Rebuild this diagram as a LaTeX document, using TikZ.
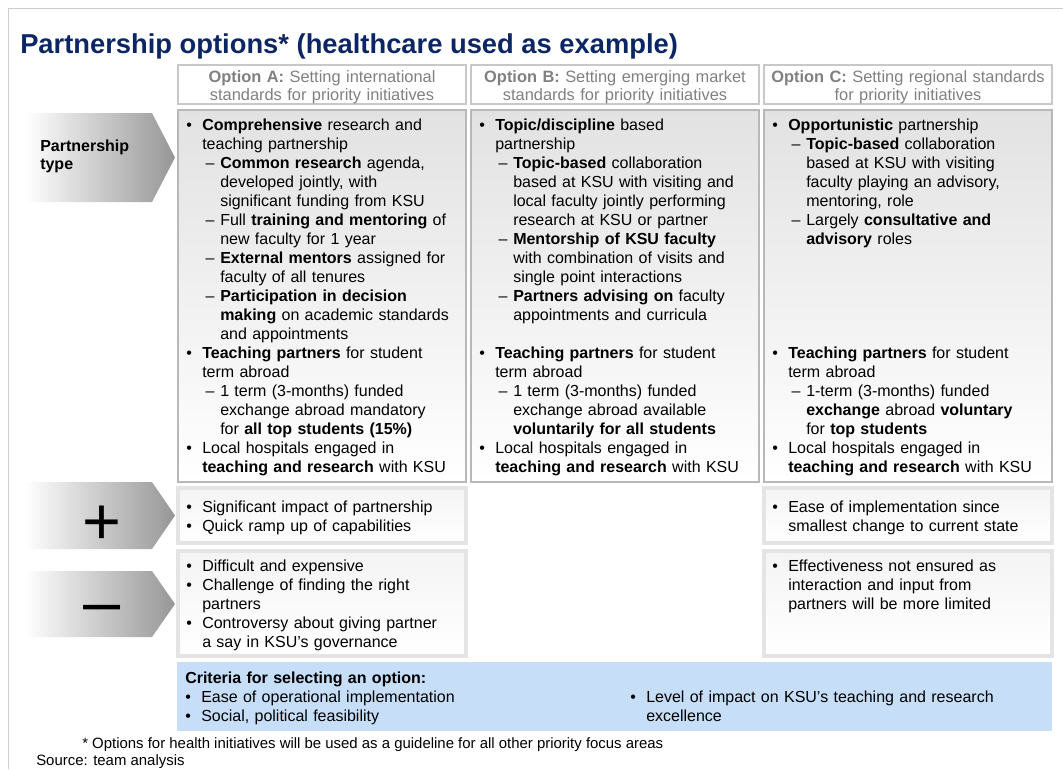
\documentclass[tikz,border=0pt]{standalone}
\usepackage{fontspec}
\setmainfont{Liberation Sans}
\definecolor{titleblue}{RGB}{12,38,100}
\definecolor{hdrline}{RGB}{200,200,200}
\definecolor{mainline}{RGB}{184,184,184}
\definecolor{pmline}{RGB}{228,228,228}
\definecolor{boxtop}{RGB}{226,226,226}
\definecolor{pmtop}{RGB}{244,244,244}
\definecolor{arrowgray}{RGB}{150,150,150}
\definecolor{critblue}{RGB}{198,222,248}
\definecolor{framegray}{RGB}{205,205,205}
\definecolor{hdrtext}{RGB}{128,128,128}
\newcommand{\bitem}[1]{\hangindent=12pt\hangafter=1\noindent\makebox[12pt][l]{•}#1\par}
\newcommand{\ditem}[1]{\hangindent=25.5pt\hangafter=1\noindent\hspace*{14.5pt}\makebox[11pt][l]{–}#1\par}
\tikzset{
  body/.style={anchor=base west, inner sep=0pt, text width=205pt,
    font=\fontsize{12}{14.25}\selectfont, execute at begin node={\raggedright}},
  hdr/.style={anchor=base, inner sep=0pt, text width=210pt, align=center,
    text=hdrtext, font=\fontsize{12.3}{13.5}\selectfont},
  foot/.style={anchor=base west, inner sep=0pt, font=\fontsize{11.2}{13}\selectfont},
  pentarrow/.style={left color=white, right color=arrowgray},
  sign/.style={anchor=base, inner sep=0pt, font=\fontsize{50}{50}\selectfont},
}
\begin{document}
\begin{tikzpicture}[x=0.75pt, y=-0.75pt]
  \def\xa{178}
  \def\xb{471}
  \def\xc{764}
  \def\w{288}
  \useasboundingbox (0,0) rectangle (1063,769);
  %
  \draw[framegray, line width=0.75pt] (8,769) -- (8,8) -- (1063,8);   % frame
  \node[anchor=base west, inner sep=0pt, text=titleblue,
    font=\fontsize{20.5}{22}\selectfont\bfseries] (title) at (20,53)
    {Partnership options* (healthcare used as example)};
  %
  \foreach \x in {\xa,\xb,\xc} {
    \draw[hdrline, line width=1.5pt, fill=white] (\x,65) rectangle ++(\w,39);             % header
    \draw[mainline, line width=2pt, top color=boxtop, bottom color=white] (\x,110) rectangle ++(\w,372); % type
  }
  \foreach \x in {\xa,\xc} {
    \draw[pmline, line width=2.5pt, top color=pmtop, bottom color=white] (\x,488) rectangle ++(\w,55);  % plus
    \draw[pmline, line width=2.5pt, top color=pmtop, bottom color=white] (\x,551) rectangle ++(\w,105); % minus
  }
  \fill[critblue] (177,662) rectangle (1052,731);                     % criteria
  %
  \foreach \t/\b in {113/202, 482/549, 571/637}
    \shade[pentarrow] (25,\t) -- (152,\t) -- (175,{(\t+\b)/2}) -- (152,\b) -- (25,\b) -- cycle;
  \node[anchor=base west, inner sep=0pt, text width=90pt, align=left,
    font=\fontsize{12}{13.5}\selectfont\bfseries] (ptype) at (40,151) {Partnership\\type};
  \node[sign] (plus) at (102,544) {+};
  \node[sign] (minus) at (102,624) {–};
  %
  \node[hdr] (hdrA) at (\xa+144,82) {\textbf{Option A:} Setting international\\standards for priority initiatives};
  \node[hdr] (hdrB) at (\xb+144,82) {\textbf{Option B:} Setting emerging market\\standards for priority initiatives};
  \node[hdr] (hdrC) at (\xc+144,82) {\textbf{Option C:} Setting regional standards\\for priority initiatives};
  %% option A
  \node[body] (typeA) at (\xa+8,130) {%
    \bitem{\textbf{Comprehensive} research and\newline teaching partnership}
    \ditem{\textbf{Common research} agenda,\newline developed jointly, with\newline significant funding from KSU}
    \ditem{Full \textbf{training and mentoring} of\newline new faculty for 1 year}
    \ditem{\textbf{External mentors} assigned for\newline faculty of all tenures}
    \ditem{\textbf{Participation in decision}\newline \textbf{making} on academic standards\newline and appointments}};
  \node[body] (teachA) at (\xa+8,358) {%
    \bitem{\textbf{Teaching partners} for student\newline term abroad}
    \ditem{1 term (3-months) funded\newline exchange abroad mandatory\newline for \textbf{all top students (15\%)}}
    \bitem{Local hospitals engaged in\newline \textbf{teaching and research} with KSU}};
  %% option B
  \node[body] (typeB) at (\xb+8,130) {%
    \bitem{\textbf{Topic/discipline} based\newline partnership}
    \ditem{\textbf{Topic-based} collaboration\newline based at KSU with visiting and\newline local faculty jointly performing\newline research at KSU or partner}
    \ditem{\textbf{Mentorship of KSU faculty}\newline with combination of visits and\newline single point interactions}
    \ditem{\textbf{Partners advising on} faculty\newline appointments and curricula}};
  \node[body] (teachB) at (\xb+8,358) {%
    \bitem{\textbf{Teaching partners} for student\newline term abroad}
    \ditem{1 term (3-months) funded\newline exchange abroad available\newline \textbf{voluntarily for all students}}
    \bitem{Local hospitals engaged in\newline \textbf{teaching and research} with KSU}};
  %% option C
  \node[body] (typeC) at (\xc+8,130) {%
    \bitem{\textbf{Opportunistic} partnership}
    \ditem{\textbf{Topic-based} collaboration\newline based at KSU with visiting\newline faculty playing an advisory,\newline mentoring, role}
    \ditem{Largely \textbf{consultative and}\newline \textbf{advisory} roles}};
  \node[body] (teachC) at (\xc+8,358) {%
    \bitem{\textbf{Teaching partners} for student\newline term abroad}
    \ditem{1-term (3-months) funded\newline \textbf{exchange} abroad \textbf{voluntary}\newline for \textbf{top students}}
    \bitem{Local hospitals engaged in\newline \textbf{teaching and research} with KSU}};
  %% plus / minus
  \node[body] (plusA) at (\xa+8,512) {%
    \bitem{Significant impact of partnership}
    \bitem{Quick ramp up of capabilities}};
  \node[body] (minusA) at (\xa+8,571) {%
    \bitem{Difficult and expensive}
    \bitem{Challenge of finding the right\newline partners}
    \bitem{Controversy about giving partner\newline a say in KSU’s governance}};
  \node[body] (plusC) at (\xc+8,512) {%
    \bitem{Ease of implementation since\newline smallest change to current state}};
  \node[body] (minusC) at (\xc+8,571) {%
    \bitem{Effectiveness not ensured as\newline interaction and input from\newline partners will be more limited}};
  %% criteria
  \node[body, font=\fontsize{12}{14.25}\selectfont\bfseries] (crit) at (185,683) {Criteria for selecting an option:};
  \node[body] (critL) at (185,702) {%
    \bitem{Ease of operational implementation}
    \bitem{Social, political feasibility}};
  \node[body, text width=300pt] (critR) at (630,702) {%
    \bitem{Level of impact on KSU’s teaching and research\newline excellence}};
  %
  \node[foot] (note) at (82,748) {* Options for health initiatives will be used as a guideline for all other priority focus areas};
  \node[foot] (src) at (36,765) {Source: team analysis};
\end{tikzpicture}
\end{document}
